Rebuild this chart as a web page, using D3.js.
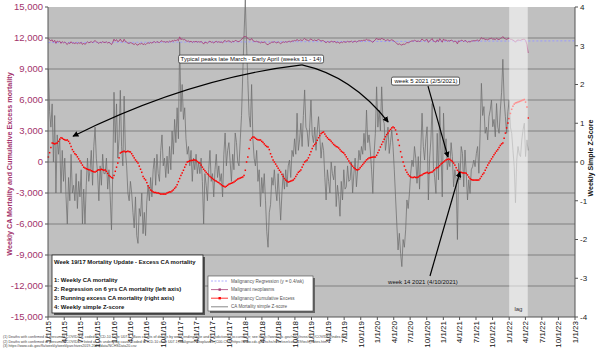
<!DOCTYPE html>
<html><head><meta charset="utf-8">
<script src="https://cdn.jsdelivr.net/npm/d3@7"></script>
<style>body{margin:0;background:#fff}svg{display:block}text{font-family:"Liberation Sans",Arial,sans-serif}</style>
</head><body><svg id="c" width="600" height="352"></svg>
<script>
// ---------------- DATA ----------------
const firstWeekEnding = "2015-01-03";

const zScore = [
2.4,1.3,0.9,1.5,0,1.2,-0.8,0.7,0.2,0.6,
-0.8,0.3,-0.5,0.1,-0.9,-1.6,-0.4,-1.0,0.2,-0.8,
-0.6,-1.0,-0.3,-1.2,-0.5,-0.9,-0.2,-1.6,-0.7,-1.6,
-0.6,0.1,-0.5,-0.2,0.3,-0.6,0.4,0.9,0.1,-0.3,
-1.0,-0.1,-0.6,0.2,-0.3,-0.3,0.1,-0.7,-0.2,-0.9,
-1.75,-0.3,1.8,0.5,1.5,0.1,0.6,1.85,0.4,-0.1,
1.7,0.3,-0.1,-0.8,-1.0,-0.5,-0.8,-1.3,-1.7,-0.9,
-1.9,-2.1,-1.2,-1.4,-0.8,-1.85,-1.3,-1.9,-1.0,-0.6,
-1.0,-0.4,-0.9,-0.2,0.1,-0.6,0.2,-0.3,-0.5,0.3,
0.7,-0.1,0.1,-0.4,0.15,-0.3,0.4,-0.2,0.8,0.2,
1.1,0.5,1.4,0.6,3.1,1.3,2.0,1.1,1.4,0.6,
0.2,0.4,-0.1,0.3,-0.5,0.1,-0.2,0.2,-0.3,0,
-0.3,0.1,-0.5,-1.6,-0.3,-0.6,-1.0,-0.2,0.3,-0.5,
-0.3,-0.9,-0.2,0.2,-0.4,-0.1,-0.5,-0.3,-0.9,0.2,
0.75,-0.1,0.3,0.5,0,-0.5,0.2,-0.2,0.75,0.5,
0,-0.1,0.57,1.2,2.3,3.3,4.2,3.0,2.1,1.2,
0.9,2.0,0.6,0.1,-0.1,0.3,-0.5,-0.2,-1.15,-0.4,
-0.8,-0.3,-1.0,-1.8,-2.2,-1.3,-1.1,-0.4,-0.6,-0.2,
-0.7,-1.0,-0.3,-0.9,-1.5,-0.8,-0.3,-0.7,-0.2,-0.64,
-0.1,0.05,-0.4,0.3,0.14,0.6,0.2,1.26,0.3,0.57,
1.0,0.4,1.2,1.86,0.9,0.8,0.4,0.9,1.6,0.7,
0.5,0.9,0.3,0.8,1.17,0.65,0.1,0.5,0.3,-0.4,
-0.98,-0.2,-0.5,-0.8,0,-0.3,-0.46,-0.1,-1.15,-0.6,
-0.9,-1.4,-0.5,-0.98,-0.2,-0.7,-0.64,-0.1,-0.5,-0.46,
0,-0.8,-0.3,0.1,-0.64,-0.2,0.3,0.05,0.4,0.2,
0.74,0.3,1.34,0.5,0.7,0.31,-0.2,-0.81,0.2,0.74,
1.94,0.9,1.34,0.8,1.94,1.1,1.0,0.3,0.57,0.9,
0.22,0.5,0.83,0.4,-0.2,-0.9,-1.6,-2.27,-1.84,-2.36,
-2.7,-2.0,-2.2,-1.75,-0.98,-1.2,-0.81,-0.29,0.05,-0.12,
0.4,0.1,-0.55,0.14,-0.7,0.3,1.26,0.4,0.05,0.6,
0.91,-0.98,0.1,0.57,1.51,-0.12,-0.4,-0.81,0.74,-0.46,
1.43,0.3,-0.9,1.26,0.22,0.6,-0.2,0.05,-0.12,0.5,
0.14,-0.64,-0.2,-0.46,-2.0,-0.03,-0.46,0.4,0.22,-0.64,
0.31,-0.3,-0.98,-0.46,-0.81,-0.2,-0.12,0.05,-0.12,0.22,
0.4,-0.29,0.74,2.03,1.2,1.43,0.74,0.9,0.57,1.17,
1.34,1.6,0.91,1.1,0.65,1.51,0.9,0.74,1.34,1.8,
2.65,1.6,1.17,0.74,1.3,1.6,0.9,0.74,0.3,-0.12,
-1.05,0.05,0.4,0.2,0.14,0.57,0.83,1.0,0.14,0.57,0.3
];

const weeklyCA = [
11960,11800,11740,11830,11600,11780,11480,11710,11630,11690,
11480,11650,11530,11620,11470,11370,11550,11460,11640,11490,
11520,11460,11560,11430,11540,11480,11580,11370,11510,11370,
11520,11630,11540,11580,11660,11530,11670,11750,11630,11570,
11470,11600,11530,11650,11570,11570,11630,11510,11590,11490,
11360,11580,11890,11700,11850,11640,11710,11900,11680,11610,
11880,11670,11610,11500,11480,11550,11510,11430,11370,11490,
11340,11310,11450,11420,11510,11350,11440,11350,11480,11540,
11480,11570,11500,11600,11650,11540,11660,11590,11560,11680,
11740,11620,11650,11580,11660,11590,11700,11610,11760,11670,
11810,11720,11850,11730,12110,11840,11940,11810,11860,11740,
11680,11710,11630,11690,11570,11660,11620,11680,11600,11650,
11600,11660,11570,11410,11600,11560,11500,11620,11700,11580,
11610,11520,11620,11680,11590,11640,11580,11610,11520,11690,
11770,11640,11700,11730,11660,11580,11690,11630,11770,11730,
11660,11650,11750,11840,12010,12130,12150,12080,11980,11840,
11800,11960,11750,11680,11650,11710,11590,11640,11500,11610,
11550,11620,11520,11400,11340,11480,11510,11610,11580,11640,
11570,11520,11630,11540,11450,11550,11630,11570,11650,11580,
11660,11680,11620,11720,11700,11770,11710,11870,11730,11770,
11830,11740,11860,11960,11820,11800,11740,11820,11920,11790,
11760,11820,11730,11800,11860,11780,11700,11760,11730,11630,
11540,11660,11610,11570,11690,11640,11620,11680,11520,11600,
11560,11480,11620,11550,11660,11590,11600,11680,11620,11630,
11700,11580,11650,11710,11600,11670,11740,11710,11760,11730,
11810,11750,11900,11780,11810,11750,11670,11580,11730,11810,
11990,11840,11900,11830,12000,11870,11860,11750,11790,11840,
11740,11780,11830,11770,11680,11580,11470,11370,11440,11360,
11310,11410,11380,11450,11570,11530,11590,11670,11720,11700,
11780,11730,11640,11740,11610,11760,11910,11780,11730,11810,
11860,11570,11740,11810,11950,11700,11660,11600,11830,11650,
11940,11770,11590,11910,11760,11820,11700,11740,11710,11800,
11750,11630,11700,11660,11430,11730,11660,11790,11760,11640,
11780,11690,11590,11660,11610,11700,11720,11740,11720,11770,
11800,11690,11850,12040,11920,11950,11850,11870,11820,11910,
11940,11980,11880,11910,11840,11970,11880,11850,11940,12010,
12140,11980,11920,11860,11940,11990,11880,11860,11790,11730,
11590,11760,11810,11780,11770,11840,11870,11900,11770,11400,10550
];

const runningExcess = [
480,900,1400,1840, 1800,1750,1800,1840, 2000,2200,2350,2300, 2200,2150,2100,2130,
2000,1800,1500,1200, 1000,800,700,500, 300,100,-100,-300, -500,-580,-650,-700,
-750,-770,-850,-900, -950,-970,-900,-800, -750,-770,-700,-750, -800,-770,-900,-1100,
-1300,-1400,-1500,-1550, -1300,-900,-500,-100, 400,870,950,1000, 1050,970,1000,1050,
1000,970,800,600, 400,200,50,-100, -400,-700,-1000,-1400, -1600,-1740,-2000,-2300,
-2500,-2710,-2800,-2900, -2950,-2950,-3000,-3000, -3050,-3100,-3100,-3100, -3100,-3100,-3000,-2950,
-2900,-2900,-2800,-2700, -2550,-2420,-2200,-1900, -1600,-1300,-1060,-800, -500,-250,0,50,
100,150,150,200, 190,150,50,-50, -100,-300,-500,-700, -850,-1000,-1150,-1260,
-1400,-1500,-1600,-1700, -1800,-1850,-1940,-2000, -2100,-2200,-2300,-2350, -2420,-2350,-2250,-2150,
-2100,-2050,-2000,-1940, -1850,-1750,-1650,-1600, -1550,-1500,-1450,-1300, -800,0,480,1300,
2130,2300,2420,2400, 2300,2200,2150,2130, 2130,2000,1900,1750, 1600,1500,1450,1200,
800,500,190,0, -200,-400,-600,-800, -970,-1200,-1400,-1600, -1750,-1850,-1940,-1900,
-1850,-1800,-1740,-1600, -1400,-1200,-1000,-900, -770,-500,-250,0, 100,190,400,700,
1000,1300,1550,1700, 1840,2100,2350,2550, 2750,2850,2900,2700, 2500,2350,2200,2130,
2000,1850,1700,1600, 1500,1450,1350,1200, 1050,950,870,700, 500,300,100,-100,
-250,-400,-550,-650, -750,-770,-700,-550, -400,-250,-100,50, 200,300,390,420,
450,470,480,480, 650,900,1150,1450, 1700,1950,2200,2450, 2650,2800,3000,3150,
3300,3390,3300,3100, 2700,2130,1600,1000, 480,0,-400,-770, -1000,-1200,-1350,-1450,
-1500,-1500,-1450,-1500, -1500,-1450,-1350,-1300, -1250,-1150,-1100,-1060, -1000,-1100,-1050,-1000,
-970,-850,-750,-600, -550,-480,-350,-200, -100,0,100,200, 250,290,250,150,
50,-100,-300,-550, -800,-970,-1000,-1000, -1050,-1060,-1060,-1100, -1250,-1450,-1600,-1700,
-1740,-1750,-1750,-1750, -1750,-1740,-1600,-1400, -1200,-1060,-800,-550, -300,-100,100,300,
500,700,870,1050, 1200,1400,1600,1750, 1840,2300,2800,3300, 3770,4200,4700,5100,
5400,5600,5710,5750, 5800,5850,5900,5950, 6000,6050,5800,5320, 4260
];

const regression = [
  {date: "2015-01-03", value: 11560},
  {date: "2022-12-31", value: 11725}
];

const xTickLabels = ["1/1/15","4/1/15","7/1/15","10/1/15","1/1/16","4/1/16","7/1/16","10/1/16",
 "1/1/17","4/1/17","7/1/17","10/1/17","1/1/18","4/1/18","7/1/18","10/1/18",
 "1/1/19","4/1/19","7/1/19","10/1/19","1/1/20","4/1/20","7/1/20","10/1/20",
 "1/1/21","4/1/21","7/1/21","10/1/21","1/1/22","4/1/22","7/1/22","10/1/22","1/1/23"];
const leftTicks = [15000,12000,9000,6000,3000,0,-3000,-6000,-9000,-12000,-15000];
const rightTicks = [4,3,2,1,0,-1,-2,-3,-4];

const lagPeriod = {start: "2022-01-01", end: "2022-04-14", label: "lag"};

const annotations = [
  {text: "Typical peaks late March - Early April (weeks 11 - 14)", date: "2018-01-31", value: 9970, box: true},
  {text: "week 5 2021 (2/5/2021)", date: "2020-09-27", value: 7840, box: true},
  {text: "week 14 2021 (4/10/2021)", date: "2020-09-10", value: -11650, box: false}
];
const arrows = [
  {from: ["2018-11-09", 9400], ctrl: ["2017-02-26", 8130], to: ["2015-05-20", 2500]},
  {from: ["2018-11-09", 9400], ctrl: ["2019-08-14", 8320], to: ["2020-03-01", 3870]},
  {from: ["2020-10-08", 7350], to: ["2021-01-27", 480]},
  {from: ["2020-10-19", -11030], to: ["2021-04-03", -970]}
];

const infoTitle = "Week 19/17 Mortality Update - Excess CA mortality";
const infoLines = ["1: Weekly CA mortality", "2: Regression on 6 yrs CA mortality (left axis)",
  "3: Running excess CA mortality (right axis)", "4: Weekly simple Z-score"];
const seriesNames = ["Malignancy Regression (y = 0.4/wk)", "Malignant neoplasms",
  "Malignancy Cumulative Excess", "CA Mortality simple Z-score"];
const footnotes = [
  "(1) Deaths with confirmed or presumed COVID-19, coded to ICD-10 code U07.1. Mass counts of deaths by week ending date and jurisdiction of occurrence; see https://www.cdc.gov/nchs/nvss/vsrr/COVID19/index.htm",
  "(2) Deaths with confirmed or presumed COVID-19 listed as an underlying cause, coded to ICD-10 code U07.1; Malignant neoplasms (C00-C97) https://www.cdc.gov/nchs/nvss/vsrr/covid19/tech_notes.htm",
  "(3) https://www.cdc.gov/flu/weekly/weeklyarchives2019-2020/data/NCHSData20.csv"
];

// ---------------- CHART ----------------
const svg = d3.select("#c");
const M = {l: 48, r: 575, t: 7, b: 317};
const parse = d3.timeParse("%Y-%m-%d");
const parseTick = d3.timeParse("%m/%d/%y");
const x = d3.scaleTime().domain([parseTick("1/1/15"), parseTick("1/1/23")]).range([M.l, M.r]);
const yL = d3.scaleLinear().domain([-15000, 15000]).range([M.b, M.t]);
const yR = d3.scaleLinear().domain([-4, 4]).range([M.b, M.t]);
const t0 = parse(firstWeekEnding);
const weekDate = i => d3.timeDay.offset(t0, 7 * i);

const MAG = "#a3336b";

svg.append("rect").attr("x", M.l).attr("y", M.t).attr("width", M.r - M.l).attr("height", M.b - M.t).attr("fill", "#c0c0c0");

// grid
svg.append("g").selectAll("line").data(leftTicks.filter(v => Math.abs(v) < 15000)).join("line")
  .attr("x1", M.l).attr("x2", M.r).attr("y1", d => yL(d)).attr("y2", d => yL(d))
  .attr("stroke", "#808080").attr("stroke-width", 1);

// Z-score
svg.append("path").datum(zScore)
  .attr("d", d3.line().x((d, i) => x(weekDate(i))).y(d => yR(d)))
  .attr("fill", "none").attr("stroke", "#6e6e6e").attr("stroke-width", 0.75);

// regression
svg.append("path").datum(regression)
  .attr("d", d3.line().x(d => x(parse(d.date))).y(d => yL(d.value)))
  .attr("fill", "none").attr("stroke", "#9a9aff").attr("stroke-width", 1).attr("stroke-dasharray", "2,2");

// weekly CA
svg.append("path").datum(weeklyCA)
  .attr("d", d3.line().x((d, i) => x(weekDate(i))).y(d => yL(d)))
  .attr("fill", "none").attr("stroke", "#a8407a").attr("stroke-width", 0.9);

// running excess
svg.append("g").selectAll("rect").data(runningExcess).join("rect")
  .attr("x", (d, i) => x(weekDate(i)) - 0.75).attr("y", d => yL(d) - 0.75)
  .attr("width", 1.5).attr("height", 1.5).attr("fill", "#ff0000");

// lag band
svg.append("rect").attr("x", x(parse(lagPeriod.start))).attr("y", M.t)
  .attr("width", x(parse(lagPeriod.end)) - x(parse(lagPeriod.start))).attr("height", M.b - M.t)
  .attr("fill", "#ffffff").attr("opacity", 0.55);
svg.append("text").attr("x", (x(parse(lagPeriod.start)) + x(parse(lagPeriod.end))) / 2).attr("y", M.b - 6)
  .attr("text-anchor", "middle").attr("font-size", 6).attr("fill", "#333").text(lagPeriod.label);

// axes
svg.append("line").attr("x1", M.l).attr("x2", M.l).attr("y1", M.t).attr("y2", M.b).attr("stroke", "#555");
svg.append("line").attr("x1", M.r).attr("x2", M.r).attr("y1", M.t).attr("y2", M.b).attr("stroke", "#555");
svg.append("line").attr("x1", M.l).attr("x2", M.r).attr("y1", M.b).attr("y2", M.b).attr("stroke", "#555");

const fmt = v => d3.format(",")(v).replace("\u2212", "-");
const gl = svg.append("g");
gl.selectAll("line").data(leftTicks).join("line")
  .attr("x1", M.l - 3).attr("x2", M.l).attr("y1", d => yL(d)).attr("y2", d => yL(d)).attr("stroke", "#555");
gl.selectAll("text").data(leftTicks).join("text")
  .attr("x", M.l - 5).attr("y", d => yL(d)).attr("dy", "0.35em").attr("text-anchor", "end")
  .attr("font-size", 9.5).attr("fill", MAG).text(fmt);

const gr = svg.append("g");
gr.selectAll("line").data(rightTicks).join("line")
  .attr("x1", M.r).attr("x2", M.r + 3).attr("y1", d => yR(d)).attr("y2", d => yR(d)).attr("stroke", "#555");
gr.selectAll("text").data(rightTicks).join("text")
  .attr("x", M.r + 5).attr("y", d => yR(d)).attr("dy", "0.35em").attr("text-anchor", "start")
  .attr("font-size", 8).attr("fill", "#222").text(d => String(d).replace("\u2212", "-"));

const gb = svg.append("g");
gb.selectAll("line").data(xTickLabels).join("line")
  .attr("x1", d => x(parseTick(d))).attr("x2", d => x(parseTick(d))).attr("y1", M.b).attr("y2", M.b + 3).attr("stroke", "#555");
gb.selectAll("text").data(xTickLabels).join("text")
  .attr("transform", d => `translate(${x(parseTick(d))},${M.b + 4}) rotate(-90)`)
  .attr("dy", "0.35em").attr("text-anchor", "end").attr("font-size", 8).attr("fill", "#111").text(d => d);

// axis titles
svg.append("text").attr("transform", `translate(9,${(M.t + M.b) / 2 + 2}) rotate(-90)`)
  .attr("text-anchor", "middle").attr("dy", "0.35em").attr("font-size", 7.2).attr("font-weight", "bold")
  .attr("fill", MAG).text("Weekly CA Mortality and Cumulative Excess mortality");
svg.append("text").attr("transform", `translate(591,158) rotate(-90)`)
  .attr("text-anchor", "middle").attr("dy", "0.35em").attr("font-size", 7).attr("font-weight", "bold")
  .attr("fill", "#111").text("Weekly Simple Z-Score");

// arrows
const defs = svg.append("defs");
defs.append("marker").attr("id", "ah").attr("viewBox", "0 0 8 8").attr("refX", 7).attr("refY", 4)
  .attr("markerWidth", 6).attr("markerHeight", 6).attr("markerUnits", "userSpaceOnUse").attr("orient", "auto")
  .append("path").attr("d", "M0,0 L8,4 L0,8 z").attr("fill", "#000");
const P = a => [x(parse(a[0])), yL(a[1])];
svg.append("g").selectAll("path").data(arrows).join("path")
  .attr("d", a => {
    const p = d3.path(); const f = P(a.from), t = P(a.to);
    p.moveTo(f[0], f[1]);
    if (a.ctrl) { const c = P(a.ctrl); p.quadraticCurveTo(c[0], c[1], t[0], t[1]); } else p.lineTo(t[0], t[1]);
    return p.toString();
  })
  .attr("fill", "none").attr("stroke", "#000").attr("stroke-width", 1.2).attr("marker-end", "url(#ah)");

// annotation labels
annotations.forEach(a => {
  const g = svg.append("g");
  const cx = x(parse(a.date)), cy = yL(a.value);
  const t = g.append("text").attr("x", cx).attr("y", cy).attr("dy", "0.35em").attr("text-anchor", "middle")
    .attr("font-size", 6).attr("fill", "#111").text(a.text);
  if (a.box) {
    const bb = t.node().getBBox();
    g.insert("rect", "text").attr("x", bb.x - 2).attr("y", bb.y - 1).attr("width", bb.width + 4).attr("height", bb.height + 2)
      .attr("rx", 1.5).attr("fill", "#fff").attr("stroke", "#333").attr("stroke-width", 0.8);
  }
});

// info box
const ib = svg.append("g");
ib.append("rect").attr("x", 54).attr("y", 257).attr("width", 151).attr("height", 58).attr("fill", "#555");
ib.append("rect").attr("x", 52).attr("y", 255).attr("width", 151).attr("height", 58).attr("fill", "#fff").attr("stroke", "#222").attr("stroke-width", 0.8);
ib.append("text").attr("x", 54).attr("y", 264).attr("font-size", 5.9).attr("font-weight", "bold").attr("fill", "#111").text(infoTitle);
ib.selectAll("text.l").data(infoLines).join("text").attr("class", "l")
  .attr("x", 54).attr("y", (d, i) => 282 + i * 9).attr("font-size", 5.9).attr("font-weight", "bold").attr("fill", "#111").text(d => d);

// series legend
const lg = svg.append("g");
lg.append("rect").attr("x", 210).attr("y", 278).attr("width", 105).attr("height", 35).attr("fill", "#666");
lg.append("rect").attr("x", 208).attr("y", 276).attr("width", 105).attr("height", 35).attr("fill", "#fff").attr("stroke", "#444").attr("stroke-width", 0.6);
const sty = [
  {stroke: "#9a9aff", dash: "2,1.5", mark: null},
  {stroke: "#a8407a", dash: null, mark: "#a8407a"},
  {stroke: "#ff0000", dash: null, mark: "#ff0000"},
  {stroke: "#6a6a6a", dash: null, mark: null}
];
seriesNames.forEach((n, i) => {
  const yy = 281 + i * 8.6;
  lg.append("line").attr("x1", 211).attr("x2", 228).attr("y1", yy).attr("y2", yy)
    .attr("stroke", sty[i].stroke).attr("stroke-width", 0.8).attr("stroke-dasharray", sty[i].dash);
  if (sty[i].mark) lg.append("rect").attr("x", 218.5).attr("y", yy - 1.2).attr("width", 2.4).attr("height", 2.4).attr("fill", sty[i].mark);
  lg.append("text").attr("x", 231).attr("y", yy).attr("dy", "0.35em").attr("font-size", 4.6).attr("fill", "#555").text(n);
});

// footnotes
svg.append("g").selectAll("text").data(footnotes).join("text")
  .attr("x", 3).attr("y", (d, i) => 338 + i * 4.6).attr("font-size", 3.6).attr("fill", "#444").text(d => d);
</script></body></html>
